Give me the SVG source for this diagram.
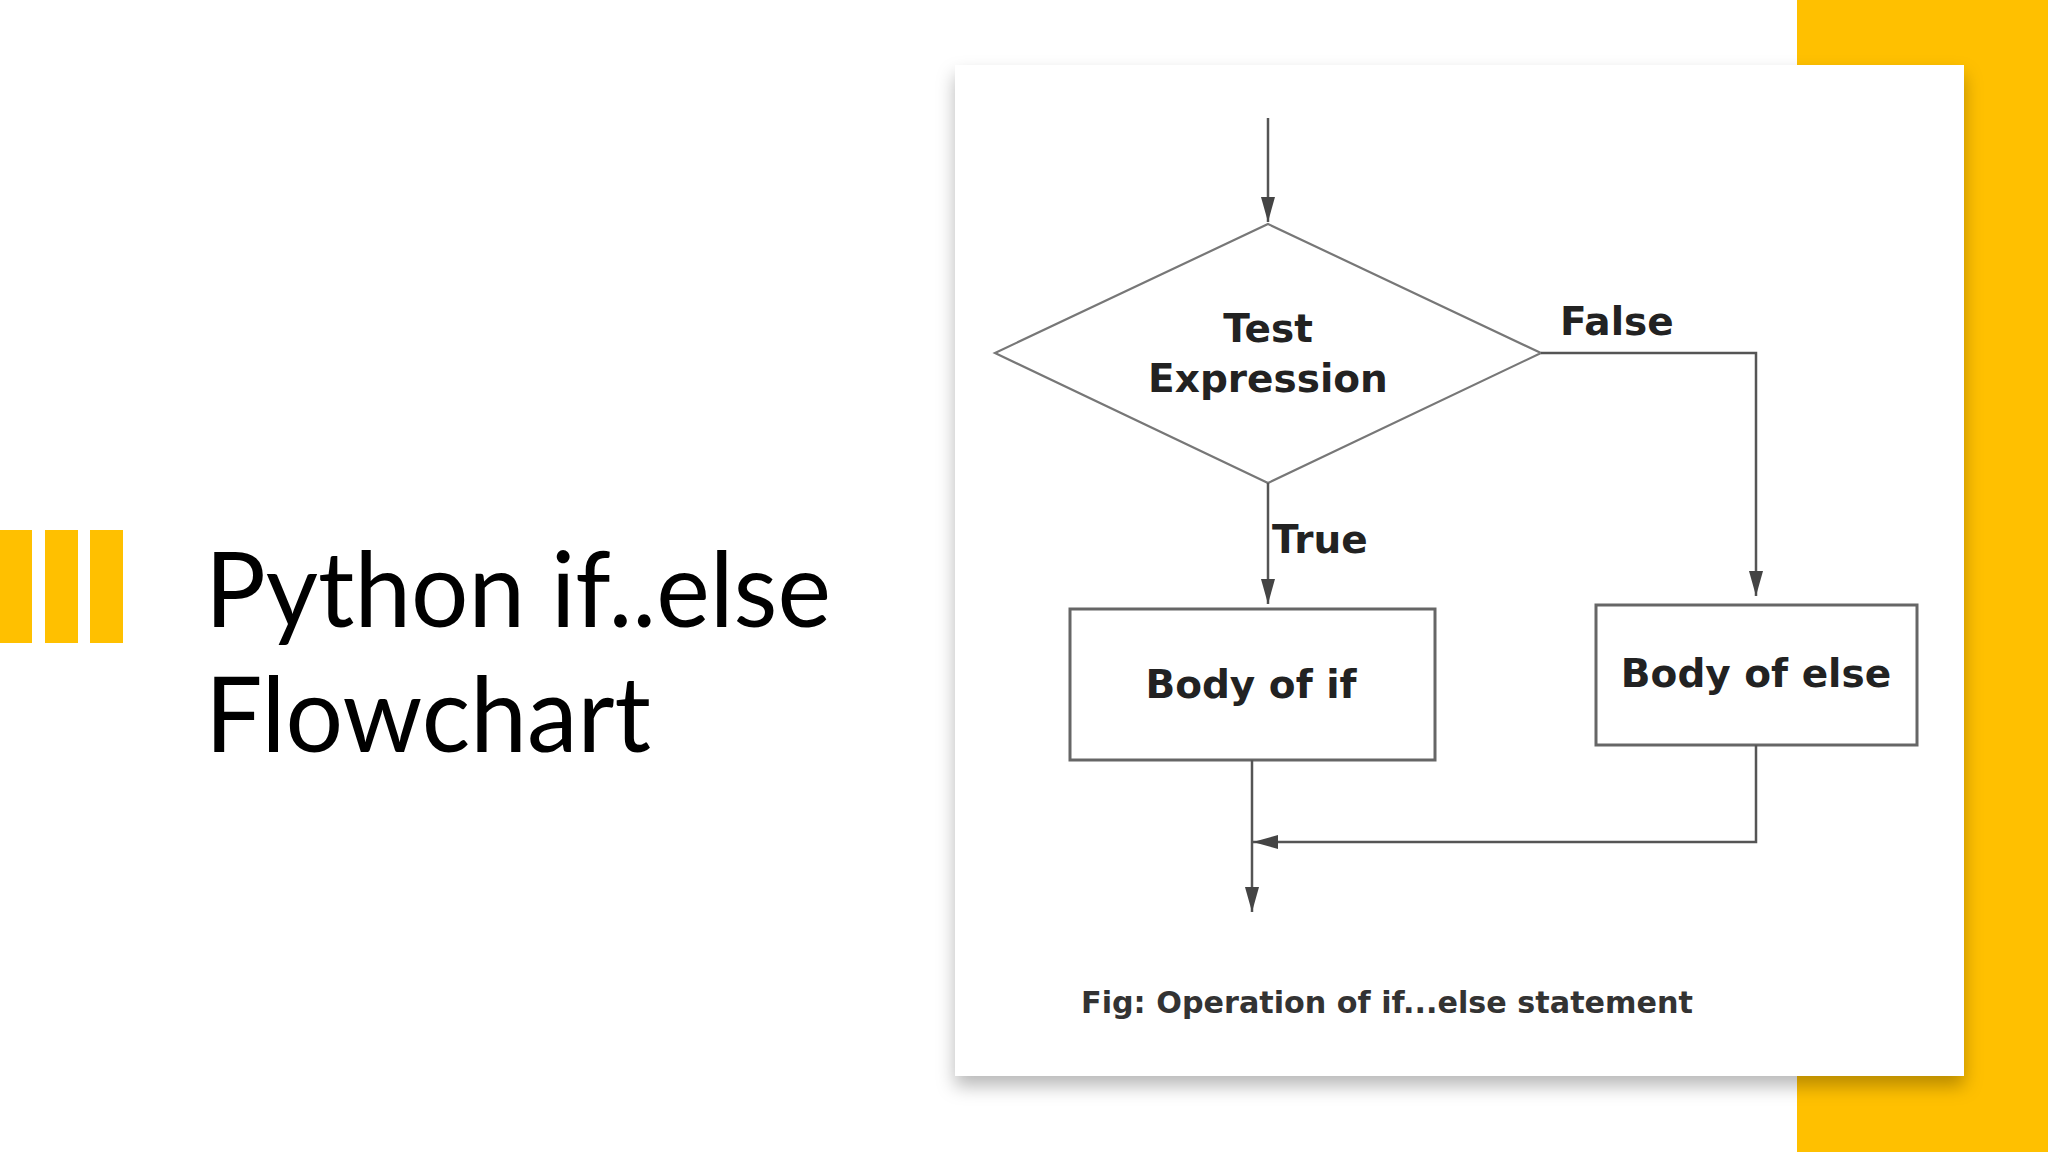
<svg xmlns="http://www.w3.org/2000/svg" width="2048" height="1152" viewBox="0 0 2048 1152">
  <defs>
    <style>
      .title { font-family: Lato, "Open Sans", "Liberation Sans", sans-serif; font-size: 104px; fill: #000; }
      .lbl { font-family: "DejaVu Sans", Verdana, sans-serif; font-weight: bold; font-size: 39px; fill: #222; }
      .cap { font-family: "DejaVu Sans", Verdana, sans-serif; font-weight: bold; font-size: 30px; fill: #333; }
      .box { fill: #fff; stroke: #666; stroke-width: 3; }
      .dia { fill: #fff; stroke: #777; stroke-width: 2.2; }
      .conn { fill: none; stroke: #555; stroke-width: 2.5; }
      .bar { fill: #FFC000; }
    </style>
    <marker id="arr" markerUnits="userSpaceOnUse" markerWidth="26" markerHeight="16" refX="25" refY="8" orient="auto">
      <path d="M0,1 L25,8 L0,15 Z" fill="#444"/>
    </marker>
    <filter id="shadow" x="-5%" y="-5%" width="110%" height="110%">
      <feDropShadow dx="0" dy="10" stdDeviation="9" flood-color="#000" flood-opacity="0.28"/>
    </filter>
  </defs>

  <rect x="0" y="0" width="2048" height="1152" fill="#fff"/>
  <rect class="bar" x="1797" y="0" width="251" height="1152"/>

  <g id="accent-bars">
    <rect class="bar" x="0" y="530" width="32" height="113"/>
    <rect class="bar" x="45" y="530" width="33" height="113"/>
    <rect class="bar" x="90" y="530" width="33" height="113"/>
  </g>

  <g id="title">
    <text class="title" x="205" y="627" textLength="626" lengthAdjust="spacingAndGlyphs">Python if..else</text>
    <text class="title" x="205" y="752" textLength="446" lengthAdjust="spacingAndGlyphs">Flowchart</text>
  </g>

  <g id="card">
    <rect x="955" y="65" width="1009" height="1011" fill="#fff" filter="url(#shadow)"/>
  </g>

  <g id="decision">
    <polygon class="dia" points="1268,224 1541,353 1268,483 995,353"/>
    <text class="lbl" x="1268" y="342" text-anchor="middle">Test</text>
    <text class="lbl" x="1268" y="392" text-anchor="middle">Expression</text>
  </g>

  <g id="body-if">
    <rect class="box" x="1070" y="609" width="365" height="151"/>
    <text class="lbl" x="1251" y="698" text-anchor="middle">Body of if</text>
  </g>

  <g id="body-else">
    <rect class="box" x="1596" y="605" width="321" height="140"/>
    <text class="lbl" x="1756" y="687" text-anchor="middle">Body of else</text>
  </g>

  <g id="connectors">
    <line class="conn" x1="1268" y1="118" x2="1268" y2="222" marker-end="url(#arr)"/>
    <line class="conn" x1="1268" y1="483" x2="1268" y2="604" marker-end="url(#arr)"/>
    <polyline class="conn" points="1541,353 1756,353 1756,596" marker-end="url(#arr)"/>
    <line class="conn" x1="1252" y1="760" x2="1252" y2="912" marker-end="url(#arr)"/>
    <polyline class="conn" points="1756,745 1756,842 1253,842" marker-end="url(#arr)"/>
  </g>

  <g id="labels">
    <text class="lbl" x="1560" y="335">False</text>
    <text class="lbl" x="1272" y="553">True</text>
  </g>

  <text class="cap" x="1081" y="1013" textLength="612" lengthAdjust="spacingAndGlyphs">Fig: Operation of if...else statement</text>
</svg>
